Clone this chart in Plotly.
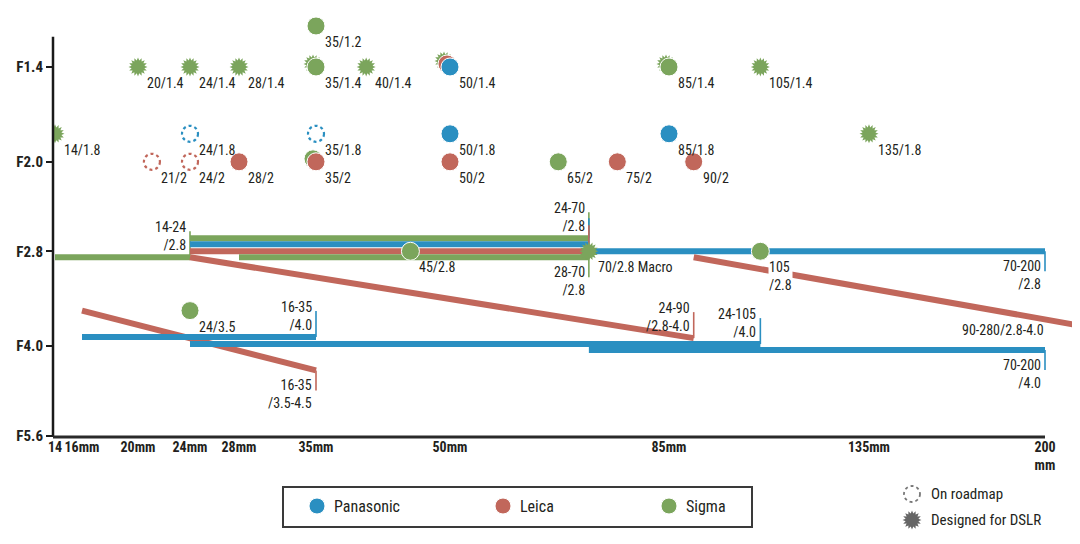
import numpy as np
import plotly.graph_objects as go

# ------------------------------------------------------------------ data
# Focal-length axis of the original chart: its labelled ticks and where the
# designer placed them (the scale is log-interpolated between these ticks).
X_TICK_MM = [14, 16, 20, 24, 28, 35, 50, 85, 135, 200]
X_TICK_TEXT = ["14", "16mm", "20mm", "24mm", "28mm", "35mm", "50mm", "85mm", "135mm", "200<br>mm"]
X_TICK_UNITS = [55, 82, 138, 190, 239, 316, 450, 669, 869, 1045]

Y_TICK_F = [1.4, 2.0, 2.8, 4.0, 5.6]
Y_TICK_TEXT = ["F1.4", "F2.0", "F2.8", "F4.0", "F5.6"]

BRANDS = ["Panasonic", "Leica", "Sigma"]

# prime lenses
PRIME_BRAND = ["Sigma"] * 19 + ["Leica"] * 8 + ["Panasonic"] * 5
PRIME_FOCAL = [14, 20, 24, 28, 35, 40, 50, 85, 105, 135, 70,
               35, 35, 85, 35, 65, 45, 105, 24,
               50, 28, 35, 50, 75, 90, 21, 24,
               50, 50, 85, 24, 35]
PRIME_FNUM = [1.8, 1.4, 1.4, 1.4, 1.4, 1.4, 1.4, 1.4, 1.4, 1.8, 2.8,
              1.2, 1.4, 1.4, 2.0, 2.0, 2.8, 2.8, 3.5,
              1.4, 2.0, 2.0, 2.0, 2.0, 2.0, 2.0, 2.0,
              1.4, 1.8, 1.8, 1.8, 1.8]
PRIME_KIND = (["dslr"] * 11 + ["lens"] * 8 + ["lens"] * 6 + ["roadmap"] * 2
              + ["lens"] * 3 + ["roadmap"] * 2)
PRIME_LABEL = ["14/1.8", "20/1.4", "24/1.4", "28/1.4", "", "40/1.4", "", "", "105/1.4", "135/1.8", "70/2.8 Macro",
               "35/1.2", "35/1.4", "85/1.4", "", "65/2", "45/2.8", "105<br>/2.8", "24/3.5",
               "", "28/2", "35/2", "50/2", "75/2", "90/2", "21/2", "24/2",
               "50/1.4", "50/1.8", "85/1.8", "24/1.8", "35/1.8"]

# zoom lenses
ZOOM_BRAND = ["Sigma", "Sigma", "Panasonic", "Leica", "Sigma", "Panasonic",
              "Leica", "Leica", "Leica", "Panasonic", "Panasonic", "Panasonic"]
ZOOM_WIDE = [14, 24, 24, 24, 28, 70, 90, 24, 16, 16, 24, 70]
ZOOM_TELE = [24, 70, 70, 70, 70, 200, 280, 90, 35, 35, 105, 200]
ZOOM_F_WIDE = [2.8, 2.8, 2.8, 2.8, 2.8, 2.8, 2.8, 2.8, 3.5, 4.0, 4.0, 4.0]
ZOOM_F_TELE = [2.8, 2.8, 2.8, 2.8, 2.8, 2.8, 4.0, 4.0, 4.5, 4.0, 4.0, 4.0]
ZOOM_LABEL = ["14-24<br>/2.8", "24-70<br>/2.8", "", "", "28-70<br>/2.8", "70-200<br>/2.8",
              "90-280/2.8-4.0", "24-90<br>/2.8-4.0", "16-35<br>/3.5-4.5", "16-35<br>/4.0",
              "24-105<br>/4.0", "70-200<br>/4.0"]

LEGEND_KEYS = ["On roadmap", "Designed for DSLR"]

# ------------------------------------------------------------------ style
COLORS = {"Panasonic": "#2a8fc1", "Leica": "#c1675b", "Sigma": "#7ba55c"}
TEXT = "#231f20"
FONT = "Roboto Condensed, DejaVu Sans Condensed, sans-serif"

# pixel nudges used to keep overlapping marks readable
PRIME_STACK = [0, 0, 0, 0, 1, 0, 2, 1, 0, 0, 0,
               0, 0, 0, 1, 0, 0, 0, 0,
               1, 0, 0, 0, 0, 0, 0, 0,
               0, 0, 0, 0, 0]
STACK_PX = 3
ZOOM_LANE_WIDE = [6, -13, -7, 0, 6, 0, 6, 6, 0, -9, -2, 4]
ZOOM_LANE_TELE = [6, -13, -7, 0, 6, 0, 0, -8, -7, -9, -2, 4]
ZOOM_TICK = [1, 1, 1, 1, -1, -1, 0, 1, -1, 1, 1, -1]
TICK_UP, TICK_DOWN = 26, 20
BAR_W = 6
DOT = 18

# the page body adds an 8px margin; the figure is sized to fit the window
PAGE_PAD = 8
VIEW_W, VIEW_H = 1080, 544
FIG_W, FIG_H = VIEW_W - PAGE_PAD, VIEW_H - PAGE_PAD
PLOT_LEFT, PLOT_TOP, PLOT_BOTTOM, PLOT_RIGHT = 53, 10, 437, 1080   # in window pixels
M_L = PLOT_LEFT - PAGE_PAD
M_T = PLOT_TOP - PAGE_PAD
M_B = VIEW_H - PLOT_BOTTOM
M_R = VIEW_W - PLOT_RIGHT
PLOT_W = FIG_W - M_L - M_R
PLOT_H = FIG_H - M_T - M_B
X_RANGE = [PLOT_LEFT, PLOT_RIGHT]
Y_RANGE = [np.log10(5.63), np.log10(1.13)]
PPD = PLOT_H / (Y_RANGE[0] - Y_RANGE[1])
Y_AXIS_TOP_F = 1.25

# ------------------------------------------------------------------ scales
_LX = np.log(np.array(X_TICK_MM, float))
_UX = np.array(X_TICK_UNITS, float)


def fx(mm):
    l = np.log(np.asarray(mm, float))
    out = np.interp(l, _LX, _UX)
    slope = (_UX[-1] - _UX[-2]) / (_LX[-1] - _LX[-2])
    out = np.where(l > _LX[-1], _UX[-1] + (l - _LX[-1]) * slope, out)
    return float(out) if np.ndim(out) == 0 else out


def fy(f):
    return float(np.log10(f))


def px_x(p):
    return (p - PLOT_LEFT) / PLOT_W


def px_y(p):
    return (PLOT_BOTTOM - p) / PLOT_H


def star_path(r_out, r_in, n):
    pts = []
    for i in range(2 * n):
        r = r_out if i % 2 == 0 else r_in
        a = np.pi * i / n
        pts.append(f"{r * np.cos(a):.2f},{r * np.sin(a):.2f}")
    return "M" + " L".join(pts) + " Z"


STAR = star_path(9.5, 6.5, 16)

fig = go.Figure()
shapes = []
annotations = []

# ------------------------------------------------------------------ zooms
for i in range(len(ZOOM_BRAND)):
    c = COLORS[ZOOM_BRAND[i]]
    x0, x1 = fx(ZOOM_WIDE[i]), fx(ZOOM_TELE[i])
    y0 = fy(ZOOM_F_WIDE[i]) + ZOOM_LANE_WIDE[i] / PPD
    y1 = fy(ZOOM_F_TELE[i]) + ZOOM_LANE_TELE[i] / PPD
    fig.add_trace(go.Scatter(x=[x0, x1], y=[y0, y1], mode="lines",
                             line=dict(color=c, width=BAR_W),
                             hoverinfo="skip", showlegend=False))
    d = ZOOM_TICK[i]
    if d != 0:
        ln = TICK_UP if d > 0 else TICK_DOWN
        fig.add_trace(go.Scatter(x=[x1, x1], y=[y1, y1 - d * ln / PPD], mode="lines",
                                 line=dict(color=c, width=1.6),
                                 hoverinfo="skip", showlegend=False))
    if ZOOM_LABEL[i]:
        if ZOOM_TELE[i] > X_TICK_MM[-1]:
            annotations.append(dict(x=fx(X_TICK_MM[-1]), y=fy(ZOOM_F_TELE[i]), xref="x", yref="y",
                                    text=ZOOM_LABEL[i], showarrow=False, xanchor="right",
                                    yanchor="bottom", yshift=7, borderpad=0, align="right"))
        else:
            annotations.append(dict(x=x1, y=y1, xref="x", yref="y", text=ZOOM_LABEL[i],
                                    showarrow=False, xanchor="right", xshift=-3,
                                    yanchor="bottom" if d > 0 else "top",
                                    yshift=3 if d > 0 else -6, borderpad=0, align="right"))

# ------------------------------------------------------------------ primes
px_pos, py_pos = [], []
for i in range(len(PRIME_BRAND)):
    s = PRIME_STACK[i]
    px_pos.append(fx(PRIME_FOCAL[i]) - STACK_PX * s)
    py_pos.append(fy(PRIME_FNUM[i]) - STACK_PX * s / PPD)

for i in range(len(PRIME_BRAND)):
    c = COLORS[PRIME_BRAND[i]]
    if PRIME_KIND[i] == "dslr":
        shapes.append(dict(type="path", xref="x", yref="y", xsizemode="pixel", ysizemode="pixel",
                           xanchor=px_pos[i], yanchor=py_pos[i], path=STAR,
                           fillcolor=c, line=dict(width=0),
                           layer="below" if PRIME_STACK[i] else "above"))
    elif PRIME_KIND[i] == "roadmap":
        shapes.append(dict(type="circle", xref="x", yref="y", xsizemode="pixel", ysizemode="pixel",
                           xanchor=px_pos[i], yanchor=py_pos[i], x0=-8, x1=8, y0=-8, y1=8,
                           line=dict(color=c, width=2.2, dash="dot"), layer="above"))

for b in ["Sigma", "Leica", "Panasonic"]:
    idx = [i for i in range(len(PRIME_BRAND)) if PRIME_BRAND[i] == b and PRIME_KIND[i] == "lens"]
    fig.add_trace(go.Scatter(x=[px_pos[i] for i in idx], y=[py_pos[i] for i in idx], mode="markers",
                             marker=dict(size=DOT, color=COLORS[b], line=dict(color="white", width=1)),
                             hoverinfo="skip", showlegend=False))

for i in range(len(PRIME_BRAND)):
    if PRIME_LABEL[i]:
        knock = "<br>" in PRIME_LABEL[i]
        annotations.append(dict(x=px_pos[i], y=py_pos[i], xref="x", yref="y", text=PRIME_LABEL[i],
                                showarrow=False, xanchor="left", yanchor="top", xshift=8, yshift=-7,
                                align="left", borderpad=0,
                                bgcolor="white" if knock else "rgba(0,0,0,0)"))

# ------------------------------------------------------------------ axes lines
shapes.append(dict(type="line", xref="paper", yref="y", x0=0, x1=0,
                   y0=fy(Y_AXIS_TOP_F), y1=Y_RANGE[0], line=dict(color="#1a1a1a", width=2.5)))
shapes.append(dict(type="line", xref="x", yref="paper", x0=X_RANGE[0], x1=fx(X_TICK_MM[-1]),
                   y0=0, y1=0, line=dict(color="#2a2a2a", width=3)))

# ------------------------------------------------------------------ legend (drawn)
shapes.append(dict(type="rect", xref="paper", yref="paper", x0=px_x(283), x1=px_x(752),
                   y0=px_y(487), y1=px_y(527), line=dict(color="#3a3a3a", width=2),
                   fillcolor="white"))
for k, (b, lx) in enumerate(zip(BRANDS, [317, 503, 669])):
    shapes.append(dict(type="circle", xref="paper", yref="paper", xsizemode="pixel", ysizemode="pixel",
                       xanchor=px_x(lx), yanchor=px_y(506), x0=-8, x1=8, y0=-8, y1=8,
                       fillcolor=COLORS[b], line=dict(color="white", width=1)))
    annotations.append(dict(x=px_x(lx + 15), y=px_y(506), xref="paper", yref="paper", text=b,
                            showarrow=False, xanchor="left", yanchor="middle",
                            font=dict(size=16, color=TEXT, family=FONT)))
shapes.append(dict(type="circle", xref="paper", yref="paper", xsizemode="pixel", ysizemode="pixel",
                   xanchor=px_x(912), yanchor=px_y(494), x0=-8, x1=8, y0=-8, y1=8,
                   line=dict(color="#777777", width=1.8, dash="dot")))
shapes.append(dict(type="path", xref="paper", yref="paper", xsizemode="pixel", ysizemode="pixel",
                   xanchor=px_x(912), yanchor=px_y(520), path=STAR,
                   fillcolor="#666666", line=dict(width=0)))
for key, ky in zip(LEGEND_KEYS, [494, 520]):
    annotations.append(dict(x=px_x(929), y=px_y(ky), xref="paper", yref="paper", text=key,
                            showarrow=False, xanchor="left", yanchor="middle",
                            font=dict(size=15, color=TEXT, family=FONT)))

fig.update_layout(
    width=FIG_W, height=FIG_H,
    margin=dict(l=M_L, r=M_R, t=M_T, b=M_B, autoexpand=False),
    paper_bgcolor="white", plot_bgcolor="white",
    font=dict(family=FONT, size=14, color=TEXT),
    showlegend=False,
    shapes=shapes,
    annotations=annotations,
    xaxis=dict(range=X_RANGE, tickvals=[fx(m) for m in X_TICK_MM], ticktext=X_TICK_TEXT,
               showgrid=False, zeroline=False, showline=False, ticks="", tickangle=0,
               automargin=False,
               tickfont=dict(size=14, family=FONT, color=TEXT, weight="bold")),
    yaxis=dict(range=Y_RANGE, tickvals=[fy(f) for f in Y_TICK_F], ticktext=Y_TICK_TEXT,
               showgrid=False, zeroline=False, showline=False, ticks="outside",
               ticklen=6, tickwidth=2, tickcolor="#1a1a1a", automargin=False,
               tickfont=dict(size=15, family=FONT, color=TEXT, weight="bold")),
)

fig.write_html("out.html")
